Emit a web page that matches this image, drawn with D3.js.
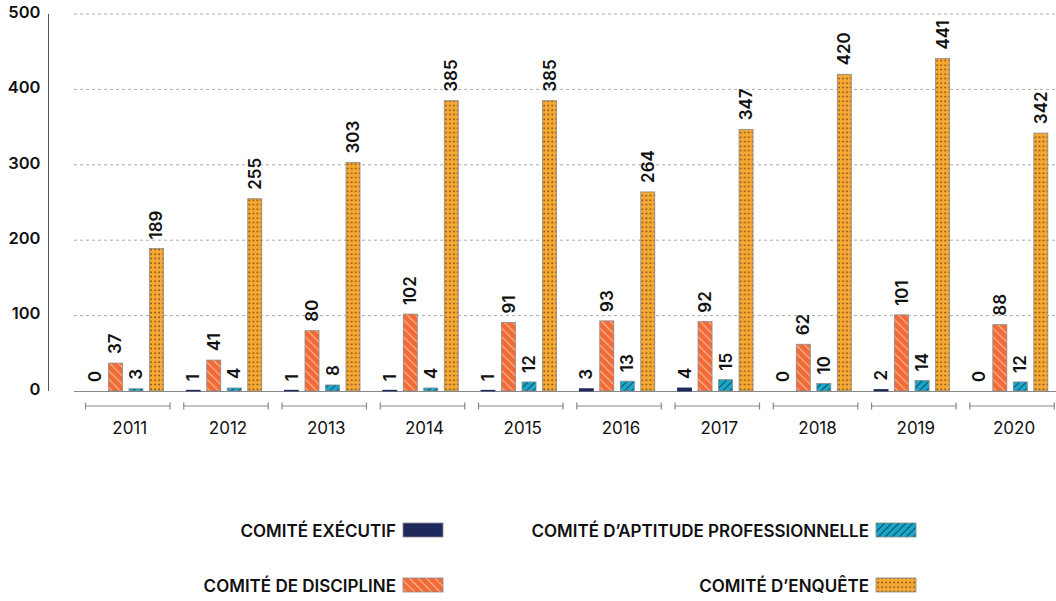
<!DOCTYPE html>
<html><head><meta charset="utf-8">
<script src="https://cdn.jsdelivr.net/npm/d3@7"></script>
<style>
body{margin:0;background:#fff;}
svg{display:block;font-family:Inter,Roboto,"Noto Sans",sans-serif;}
</style></head>
<body><svg id="c" width="1056" height="601"></svg>
<script>
const years = ["2011","2012","2013","2014","2015","2016","2017","2018","2019","2020"];
const seriesNames = ["COMITÉ EXÉCUTIF","COMITÉ DE DISCIPLINE","COMITÉ D’APTITUDE PROFESSIONNELLE","COMITÉ D’ENQUÊTE"];
const executif = [0,1,1,1,1,3,4,0,2,0];
const discipline = [37,41,80,102,91,93,92,62,101,88];
const aptitude = [3,4,8,4,12,13,15,10,14,12];
const enquete = [189,255,303,385,385,264,347,420,441,342];
const yTicks = [0,100,200,300,400,500];

const seriesValues = [executif, discipline, aptitude, enquete];
const fills = ["#1f2a5c","url(#pOrange)","url(#pTeal)","url(#pDots)"];

const svg = d3.select("#c");
const defs = svg.append("defs");
const po = defs.append("pattern").attr("id","pOrange").attr("patternUnits","userSpaceOnUse")
  .attr("width",6).attr("height",6).attr("patternTransform","rotate(-45)");
po.append("rect").attr("width",6).attr("height",6).attr("fill","#f26a35");
po.append("rect").attr("x",0).attr("y",0).attr("width",1.2).attr("height",6).attr("fill","#f8b596");
const pt = defs.append("pattern").attr("id","pTeal").attr("patternUnits","userSpaceOnUse")
  .attr("width",5).attr("height",5).attr("patternTransform","rotate(45)");
pt.append("rect").attr("width",5).attr("height",5).attr("fill","#1aa6c8");
pt.append("rect").attr("x",0).attr("y",0).attr("width",1).attr("height",5).attr("fill","#0d4f63");
const pd = defs.append("pattern").attr("id","pDots").attr("patternUnits","userSpaceOnUse")
  .attr("width",4).attr("height",4.5);
pd.append("rect").attr("width",4).attr("height",4.5).attr("fill","#f7a833");
pd.append("rect").attr("x",1.5).attr("y",1.5).attr("width",1.3).attr("height",1.3).attr("fill","#3a2a10");

const y = d3.scaleLinear().domain([0,500]).range([391,14]);
const x0 = d3.scaleBand().domain(years).range([78.6,1061.2]).paddingInner(0.13).paddingOuter(0.065);
const x1 = d3.scaleBand().domain(d3.range(4)).range([3,78.5]).paddingInner(0.317).paddingOuter(0);

svg.append("g").selectAll("line").data(yTicks.filter(d=>d>0)).join("line")
  .attr("x1",74).attr("x2",1056).attr("y1",d=>y(d)).attr("y2",d=>y(d))
  .attr("stroke","#aaa").attr("stroke-width",1).attr("stroke-dasharray","3,3");

const yAxis = svg.append("g").attr("transform","translate(48.5,0)")
  .call(d3.axisLeft(y).tickValues(yTicks).tickSize(0).tickPadding(8));
yAxis.select(".domain").attr("stroke","#555").attr("d",`M0,${y(500)}V${y(0)}`);
yAxis.selectAll("text").attr("font-size",16.5).attr("font-weight",600).attr("fill","#111")
  .attr("font-family","Inter,Roboto,sans-serif").attr("dy","0.2em");

svg.append("line").attr("x1",74).attr("x2",1056).attr("y1",y(0)+0.5).attr("y2",y(0)+0.5)
  .attr("stroke","#888").attr("stroke-width",1.2);

const groups = svg.append("g").selectAll("g").data(years).join("g")
  .attr("transform",d=>`translate(${x0(d)},0)`);
groups.each(function(yr,i){
  const g = d3.select(this);
  seriesValues.forEach((vals,s)=>{
    const v = vals[i];
    const bx = x1(s), bw = x1.bandwidth();
    if(v>0){
      g.append("rect").attr("x",bx).attr("y",y(v)).attr("width",bw).attr("height",y(0)-y(v))
        .attr("fill",fills[s]).attr("stroke",s===0?"#1f2a5c":"#8a8a8a").attr("stroke-width",0.8);
    }
    g.append("text").attr("transform",`translate(${bx+bw/2+6},${y(v)-9}) rotate(-90)`)
      .attr("font-size",17).attr("font-weight",600).attr("fill","#111")
      .attr("text-anchor","start").text(v);
  });
  const bwid = x0.bandwidth();
  g.append("path").attr("d",`M0.5,406H${bwid-0.5}M0.5,402.5V409.5M${bwid-0.5},402.5V409.5`)
    .attr("stroke","#888").attr("stroke-width",1.2).attr("fill","none");
  g.append("text").attr("x",bwid/2+2).attr("y",434).attr("text-anchor","middle")
    .attr("font-size",17).attr("fill","#111").text(yr);
});

const legendPos = [[396,537],[396,592],[869,537],[869,592]];
[0,1,2,3].forEach((s,k)=>{
  const [lx,ly] = legendPos[k];
  svg.append("text").attr("x",lx).attr("y",ly).attr("text-anchor","end")
    .attr("font-size",17).attr("font-weight",600).attr("fill","#111").text(seriesNames[s]);
  svg.append("rect").attr("x",lx+7).attr("y",ly-14).attr("width",40).attr("height",14)
    .attr("fill",fills[s]).attr("stroke","#8a8a8a").attr("stroke-width",0.8);
});
</script></body></html>
